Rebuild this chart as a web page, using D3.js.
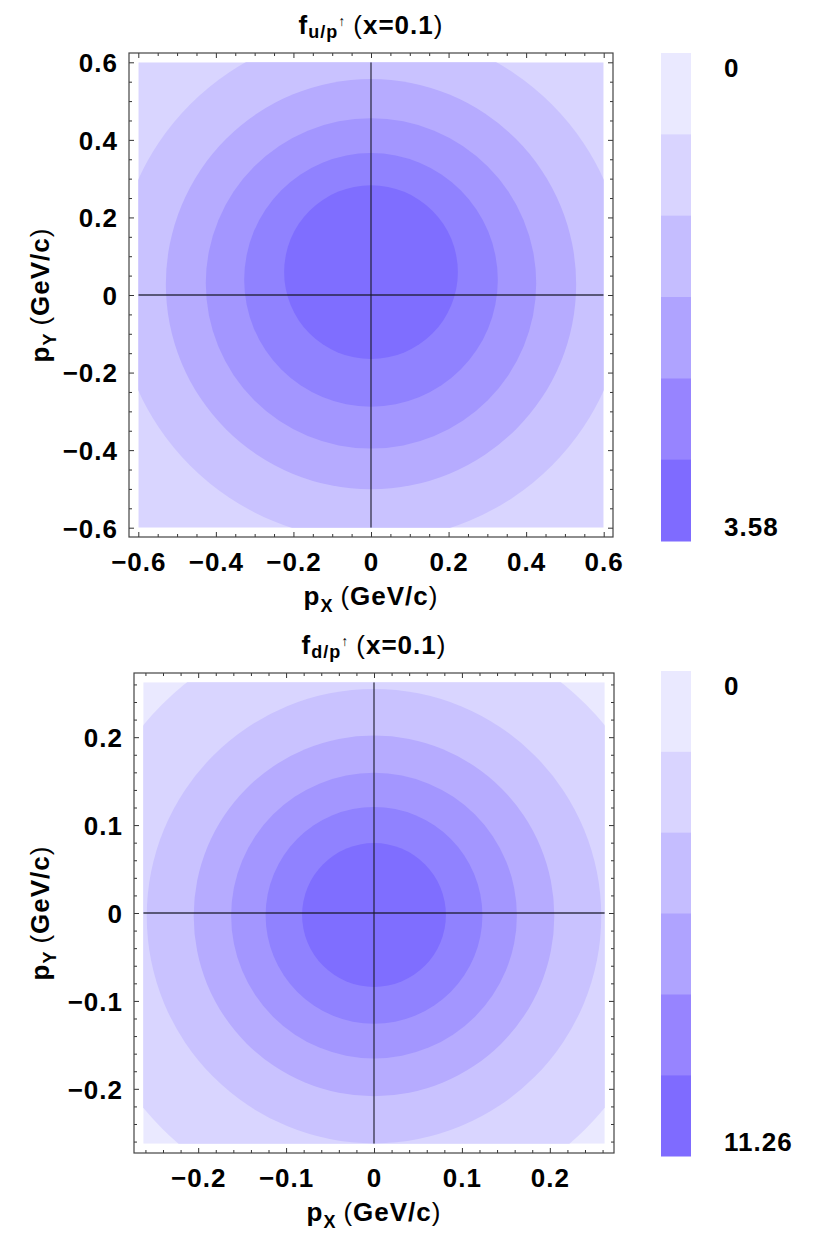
<!DOCTYPE html>
<html><head><meta charset="utf-8">
<script src="https://cdn.jsdelivr.net/npm/d3@7"></script>
<style>
body{margin:0;background:#fff;}
svg{display:block;}
text{font-family:"Liberation Sans",Arial,Helvetica,sans-serif;font-weight:bold;fill:#000;}
.tick text{font-size:26px;letter-spacing:1px;}
.lbl{font-size:26px;letter-spacing:1px;}
.nw{font-weight:normal;}
</style></head><body>
<svg id="c" width="824" height="1236"></svg>
<script>
// ---- data ----
const plotLevelColors = ["#EAE9FF","#D9D5FF","#C9C2FF","#B6ABFF","#A396FF","#9082FF","#7F6EFF"];
const colorbarColors  = ["#EAE9FF","#D9D4FF","#C5BDFF","#AFA3FF","#9784FF","#7F6BFF"];

// top panel : f_{u/p↑}(x=0.1)
const uParton = "u/p";
const uXValue = "0.1";
const uRange = 0.6;
const uAxisTicks  = [-0.6,-0.4,-0.2,0,0.2,0.4,0.6];
const uTickLabels = ["\u22120.6","\u22120.4","\u22120.2","0","0.2","0.4","0.6"];
const uMinorStep = 0.05;
const uContourRadii   = [0.659,0.529,0.426,0.327,0.224];
const uContourCenterY = [0.026,0.028,0.030,0.039,0.059];
const uColorbarLabels = ["0","3.58"];

// bottom panel : f_{d/p↑}(x=0.1)
const dParton = "d/p";
const dXValue = "0.1";
const dRange = 0.2625;
const dAxisTicks  = [-0.2,-0.1,0,0.1,0.2];
const dTickLabels = ["\u22120.2","\u22120.1","0","0.1","0.2"];
const dMinorStep = 0.02;
const dContourRadii   = [0.341,0.2585,0.2051,0.1625,0.1233,0.0818];
const dContourCenterY = [-0.004,-0.0036,-0.0033,-0.003,-0.0027,-0.0023];
const dColorbarLabels = ["0","11.26"];

// ---- drawing ----
const svg = d3.select("#c");

function drawPanel(p){
  const ext = p.range*1.04;
  const x = d3.scaleLinear().domain([-ext,ext]).range([p.left,p.right]);
  const y = d3.scaleLinear().domain([-ext,ext]).range([p.bottom,p.top]);
  const g = svg.append("g");
  const clipId = "clip"+p.id;
  g.append("clipPath").attr("id",clipId).append("rect")
    .attr("x",x(-p.range)).attr("y",y(p.range))
    .attr("width",x(p.range)-x(-p.range)).attr("height",y(-p.range)-y(p.range));
  const cg = g.append("g").attr("clip-path",`url(#${clipId})`);
  const bgLevel = plotLevelColors.length-1-p.radii.length;
  cg.append("rect")
    .attr("x",x(-p.range)).attr("y",y(p.range))
    .attr("width",x(p.range)-x(-p.range)).attr("height",y(-p.range)-y(p.range))
    .attr("fill",plotLevelColors[bgLevel]);
  cg.selectAll("circle.ring").data(p.radii).join("circle").attr("class","ring")
    .attr("cx",x(0)).attr("cy",(d,i)=>y(p.cy[i])).attr("r",d=>x(d)-x(0))
    .attr("fill",(d,i)=>plotLevelColors[bgLevel+1+i]);
  // zero lines
  cg.append("line").attr("x1",x(-p.range)).attr("x2",x(p.range)).attr("y1",y(0)).attr("y2",y(0))
    .attr("stroke","#1a1a2a").attr("stroke-width",1.3).attr("stroke-opacity",0.85);
  cg.append("line").attr("x1",x(0)).attr("x2",x(0)).attr("y1",y(-p.range)).attr("y2",y(p.range))
    .attr("stroke","#1a1a2a").attr("stroke-width",1.3).attr("stroke-opacity",0.85);

  // ticks
  const nMin = Math.round(p.range/p.minorStep);
  const minor = d3.range(-nMin,nMin+1).map(i=>+(i*p.minorStep).toFixed(6))
    .filter(v=>!p.ticks.some(t=>Math.abs(t-v)<1e-6));
  const fmt = v=>p.tickLabels[p.ticks.findIndex(t=>Math.abs(t-v)<1e-9)];
  function ax(gen,scale,vals,size,tr,labels){
    const a = gen(scale).tickValues(vals).tickSizeInner(size).tickSizeOuter(0)
      .tickFormat(labels?fmt:"");
    const s = g.append("g").attr("transform",tr).call(a);
    s.attr("font-size",null).attr("font-family",null).style("color","#333");
    s.select(".domain").remove();
    s.selectAll(".tick line").attr("stroke-width",1);
    return s;
  }
  const l = ax(d3.axisLeft,y,p.ticks,-5,`translate(${p.left},0)`,true);
  l.selectAll(".tick text").attr("x",-11).attr("dy","0.36em");
  ax(d3.axisLeft,y,minor,-3,`translate(${p.left},0)`,false);
  const b = ax(d3.axisBottom,x,p.ticks,-5,`translate(0,${p.bottom})`,true);
  b.selectAll(".tick text").attr("y",34).attr("dy",0);
  ax(d3.axisBottom,x,minor,-3,`translate(0,${p.bottom})`,false);
  ax(d3.axisRight,y,p.ticks,-5,`translate(${p.right},0)`,false);
  ax(d3.axisRight,y,minor,-3,`translate(${p.right},0)`,false);
  ax(d3.axisTop,x,p.ticks,-5,`translate(0,${p.top})`,false);
  ax(d3.axisTop,x,minor,-3,`translate(0,${p.top})`,false);

  // frame
  g.append("rect").attr("x",p.left).attr("y",p.top)
    .attr("width",p.right-p.left).attr("height",p.bottom-p.top)
    .attr("fill","none").attr("stroke","#444").attr("stroke-width",1.2);

  // title
  const t = g.append("text").attr("class","lbl").attr("x",x(0)).attr("y",p.top-19)
    .attr("text-anchor","middle");
  t.append("tspan").text("f");
  t.append("tspan").attr("font-size",18).attr("dy",4).text(p.parton);
  t.append("tspan").attr("font-size",14).attr("dy",-12).attr("class","nw").text("\u2191");
  t.append("tspan").attr("dy",8).attr("dx",7).attr("class","nw").text("(");
  t.append("tspan").text("x=" + p.xval);
  t.append("tspan").attr("class","nw").text(")");

  // x label
  const xl = g.append("text").attr("class","lbl").attr("x",x(0)).attr("y",p.bottom+68)
    .attr("text-anchor","middle");
  xl.append("tspan").text("p");
  xl.append("tspan").attr("font-size",18).attr("dy",7).text("X");
  xl.append("tspan").attr("dy",-7).attr("dx",7).attr("class","nw").text("(");
  xl.append("tspan").text("GeV/c");
  xl.append("tspan").attr("class","nw").text(")");

  // y label
  const yl = g.append("text").attr("class","lbl")
    .attr("transform",`translate(49,${y(0)}) rotate(-90)`).attr("text-anchor","middle");
  yl.append("tspan").text("p");
  yl.append("tspan").attr("font-size",18).attr("dy",7).text("Y");
  yl.append("tspan").attr("dy",-7).attr("dx",7).attr("class","nw").text("(");
  yl.append("tspan").text("GeV/c");
  yl.append("tspan").attr("class","nw").text(")");

  // colorbar
  const cb = d3.scaleBand().domain(d3.range(colorbarColors.length)).range([p.cbTop,p.cbBottom]);
  g.selectAll("rect.cb").data(colorbarColors).join("rect").attr("class","cb")
    .attr("x",661).attr("width",30)
    .attr("y",(d,i)=>cb(i)).attr("height",cb.bandwidth()+0.5).attr("fill",d=>d);
  g.append("text").attr("class","lbl").attr("x",724).attr("y",p.cbTop+24).text(p.cbLabels[0]);
  g.append("text").attr("class","lbl").attr("x",724).attr("y",p.cbBottom-5).text(p.cbLabels[1]);
}

drawPanel({id:"u",range:uRange,ticks:uAxisTicks,tickLabels:uTickLabels,minorStep:uMinorStep,
  radii:uContourRadii,cy:uContourCenterY,parton:uParton,xval:uXValue,cbLabels:uColorbarLabels,
  left:129,right:613,top:53,bottom:537,cbTop:53,cbBottom:541});
drawPanel({id:"d",range:dRange,ticks:dAxisTicks,tickLabels:dTickLabels,minorStep:dMinorStep,
  radii:dContourRadii,cy:dContourCenterY,parton:dParton,xval:dXValue,cbLabels:dColorbarLabels,
  left:134,right:614,top:673,bottom:1153,cbTop:671,cbBottom:1156});
</script>
</body></html>
